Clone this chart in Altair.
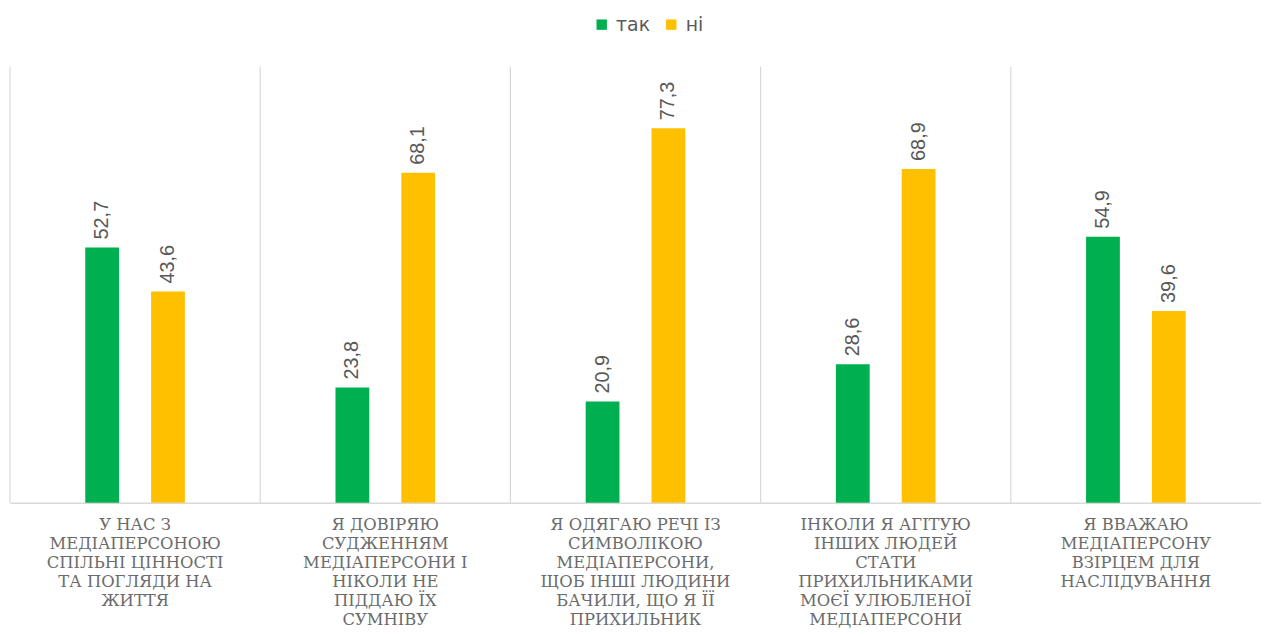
import altair as alt
import pandas as pd

categories = [
    "У НАС З\nМЕДІАПЕРСОНОЮ\nСПІЛЬНІ ЦІННОСТІ\nТА ПОГЛЯДИ НА\nЖИТТЯ",
    "Я ДОВІРЯЮ\nСУДЖЕННЯМ\nМЕДІАПЕРСОНИ І\nНІКОЛИ НЕ\nПІДДАЮ ЇХ\nСУМНІВУ",
    "Я ОДЯГАЮ РЕЧІ ІЗ\nСИМВОЛІКОЮ\nМЕДІАПЕРСОНИ,\nЩОБ ІНШІ ЛЮДИНИ\nБАЧИЛИ, ЩО Я ЇЇ\nПРИХИЛЬНИК",
    "ІНКОЛИ Я АГІТУЮ\nІНШИХ ЛЮДЕЙ\nСТАТИ\nПРИХИЛЬНИКАМИ\nМОЄЇ УЛЮБЛЕНОЇ\nМЕДІАПЕРСОНИ",
    "Я ВВАЖАЮ\nМЕДІАПЕРСОНУ\nВЗІРЦЕМ ДЛЯ\nНАСЛІДУВАННЯ",
]
series = ["так", "ні"]
tak = [52.7, 23.8, 20.9, 28.6, 54.9]
ni = [43.6, 68.1, 77.3, 68.9, 39.6]
colors = ["#00B050", "#FFC000"]

rows = []
for i, c in enumerate(categories):
    for s, vals in zip(series, [tak, ni]):
        v = vals[i]
        rows.append({"cat": c, "series": s, "value": v,
                     "label": f"{v:.1f}".replace(".", ",")})
df = pd.DataFrame(rows)
sep_df = pd.DataFrame({"cat": categories})

W, H = 1259, 439
xscale = alt.Scale(domain=categories, paddingInner=0, paddingOuter=0)
xoff = alt.Scale(domain=series, paddingInner=0, paddingOuter=0.9)
yscale = alt.Scale(domain=[0, 90])

xaxis = alt.Axis(labelExpr="split(datum.label, '\\n')", labelAngle=0,
                 labelFont="DejaVu Serif", labelFontSize=16.5,
                 labelColor="#6b6b6b", labelLineHeight=19,
                 labelPadding=14, labelLimit=0, labelOverlap=False,
                 labelBaseline="top", title=None,
                 ticks=False, grid=False, domainColor="#d9d9d9",
                 domainWidth=1.5)

seps = alt.Chart(sep_df).mark_rule(color="#d9d9d9", strokeWidth=1.2).encode(
    x=alt.X("cat:N", scale=xscale, sort=categories, bandPosition=0, axis=xaxis,
            title=None),
)

bars = alt.Chart(df).mark_bar(width=34).encode(
    x=alt.X("cat:N", scale=xscale, sort=categories, axis=xaxis, title=None),
    xOffset=alt.XOffset("series:N", scale=xoff, sort=series),
    y=alt.Y("value:Q", scale=yscale, axis=None),
    color=alt.Color("series:N", sort=series,
                    scale=alt.Scale(domain=series, range=colors),
                    legend=alt.Legend(title=None, orient="none", direction="horizontal",
                                      legendX=586, legendY=-52,
                                      symbolType="square", symbolSize=110,
                                      symbolStrokeWidth=0,
                                      labelFont="DejaVu Sans", labelFontSize=19,
                                      labelColor="#595959", columnPadding=11,
                                      labelOffset=5,
                                      symbolOffset=0)),
)

texts = alt.Chart(df).mark_text(angle=270, align="left", baseline="middle", dx=8,
                                font="Liberation Sans", fontSize=20,
                                color="#595959").encode(
    x=alt.X("cat:N", scale=xscale, sort=categories, axis=xaxis, title=None),
    xOffset=alt.XOffset("series:N", scale=xoff, sort=series),
    y=alt.Y("value:Q", scale=yscale, axis=None),
    text="label:N",
)

chart = alt.layer(seps, bars, texts).properties(
    width=W, height=H,
    background="white",
    padding={"left": 2, "top": 57, "right": 0, "bottom": 132},
    autosize=alt.AutoSizeParams(type="none"),
).configure_view(strokeWidth=0, stroke=None)

chart.save("out.html", embed_options={"renderer": "svg", "actions": False})
